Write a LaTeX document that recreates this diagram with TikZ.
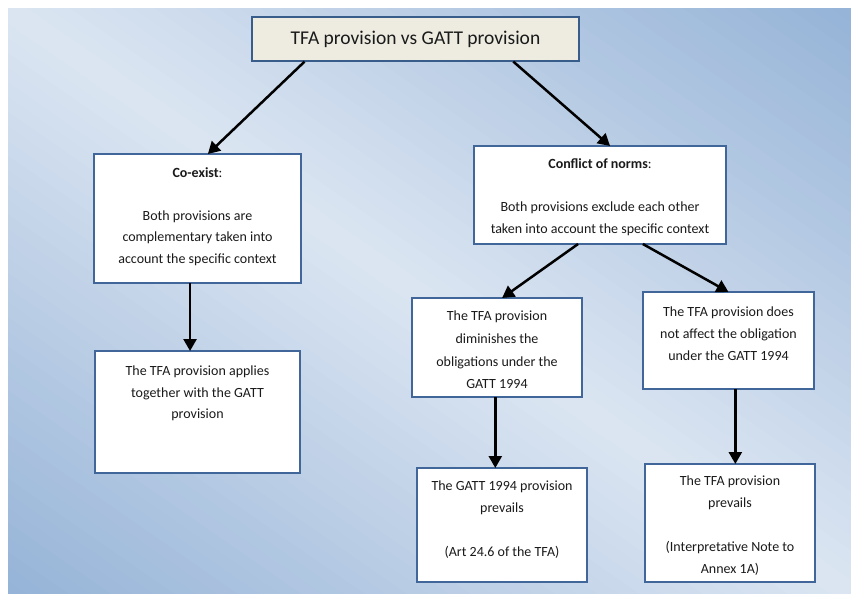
\documentclass[tikz,border=0pt]{standalone}
\usepackage{fontspec}
\setmainfont{Carlito}
\usetikzlibrary{arrows.meta,calc}
\definecolor{bgdark}{HTML}{95B3D7}
\definecolor{bglight}{HTML}{DCE6F2}
\definecolor{boxline}{HTML}{41679A}
\definecolor{titlefill}{HTML}{EEECE1}
\definecolor{titleline}{HTML}{385D8A}
\definecolor{ink}{HTML}{1A1A1A}
\tikzset{
  boxnode/.style={draw=boxline, line width=1.2pt, fill=white, anchor=north west, inner sep=0pt, outer sep=0pt},
  boxtext/.style={text=ink, align=center, inner sep=0pt, font=\fontsize{14}{21.5}\selectfont},
  arr/.style={line width=2.5pt, -{Triangle[length=12pt,width=13pt]}, black}
}
\begin{document}
\begin{tikzpicture}[x=1pt,y=-1pt]
\useasboundingbox (0,0) rectangle (851,594);
% background gradient (light along the TL-BR diagonal, darker towards TR and BL corners)
\begin{scope}
\clip (8,9) rectangle (851,594);
\foreach \i in {0,...,79} {
  \pgfmathsetmacro\sa{-482+\i*12.05}
  \pgfmathsetmacro\sb{\sa+13.5}
  \pgfmathsetmacro\pct{max(0,min(100,100*(1-abs(\sa+6)/481)))}
  \pgfmathsetmacro\xa{429.5+\sa*0.5701-620*0.8216}
  \pgfmathsetmacro\ya{301.5-\sa*0.8216-620*0.5701}
  \pgfmathsetmacro\xb{429.5+\sb*0.5701-620*0.8216}
  \pgfmathsetmacro\yb{301.5-\sb*0.8216-620*0.5701}
  \pgfmathsetmacro\xc{429.5+\sb*0.5701+620*0.8216}
  \pgfmathsetmacro\yc{301.5-\sb*0.8216+620*0.5701}
  \pgfmathsetmacro\xd{429.5+\sa*0.5701+620*0.8216}
  \pgfmathsetmacro\yd{301.5-\sa*0.8216+620*0.5701}
  \fill[bglight!\pct!bgdark] (\xa,\ya) -- (\xb,\yb) -- (\xc,\yc) -- (\xd,\yd) -- cycle;
}
\end{scope}

% title
\node[draw=titleline, line width=1.2pt, fill=titlefill, minimum width=327pt, minimum height=44pt, inner sep=0pt, text=ink, font=\fontsize{19.5}{24}\selectfont] (title) at (415.5,39) {TFA provision vs GATT provision};

% boxes
\node[boxnode, minimum width=207pt, minimum height=129pt] (coexist) at (94,154) {};
\node[boxnode, minimum width=252pt, minimum height=98pt] (conflict) at (474,146) {};
\node[boxnode, minimum width=170pt, minimum height=99pt] (dimin) at (412,298) {};
\node[boxnode, minimum width=171pt, minimum height=97pt] (noaffect) at (643,292) {};
\node[boxnode, minimum width=205pt, minimum height=122pt] (applies) at (95,351) {};
\node[boxnode, minimum width=170pt, minimum height=114pt] (gattp) at (417,468) {};
\node[boxnode, minimum width=170pt, minimum height=118pt] (tfap) at (645,464) {};

% texts
\node[boxtext] (coexistT) at (197.5,216.5) {\textbf{Co-exist}:\\[21.5pt] Both provisions are\\ complementary taken into\\ account the specific context};
\node[boxtext] (conflictT) at (600,197) {\textbf{Conflict of norms}:\\[21.5pt] Both provisions exclude each other\\ taken into account the specific context};
\node[boxtext, font=\fontsize{14}{22.6}\selectfont] (diminT) at (497,350) {The TFA provision\\ diminishes the\\ obligations under the\\ GATT 1994};
\node[boxtext, font=\fontsize{14}{22}\selectfont] (noaffectT) at (728.5,334) {The TFA provision does\\ not affect the obligation\\ under the GATT 1994};
\node[boxtext] (appliesT) at (197.5,393.5) {The TFA provision applies\\ together with the GATT\\ provision};
\node[boxtext, font=\fontsize{14}{22}\selectfont] (gattpT) at (502,520) {The GATT 1994 provision\\ prevails\\[22pt] (Art 24.6 of the TFA)};
\node[boxtext, font=\fontsize{14}{22}\selectfont] (tfapT) at (730,526) {The TFA provision\\ prevails\\[22pt] (Interpretative Note to\\ Annex 1A)};

% connectors
\draw[arr] ($(title.south west)!0.162!(title.south east)$) -- ($(coexist.north west)!0.55!(coexist.north east)$);
\draw[arr] ($(title.south west)!0.798!(title.south east)$) -- ($(conflict.north west)!0.54!(conflict.north east)$);
\draw[arr] ($(conflict.south west)!0.413!(conflict.south east)$) -- ($(dimin.north west)!0.53!(dimin.north east)$);
\draw[arr] ($(conflict.south west)!0.67!(conflict.south east)$) -- ($(noaffect.north west)!0.50!(noaffect.north east)$);
\draw[arr] ($(coexist.south west)!0.464!(coexist.south east)$) coordinate (c1) -- (c1 |- applies.north);
\draw[arr] ($(dimin.south west)!0.49!(dimin.south east)$) coordinate (c2) -- (c2 |- gattp.north);
\draw[arr] ($(noaffect.south west)!0.54!(noaffect.south east)$) coordinate (c3) -- (c3 |- tfap.north);
\end{tikzpicture}
\end{document}
